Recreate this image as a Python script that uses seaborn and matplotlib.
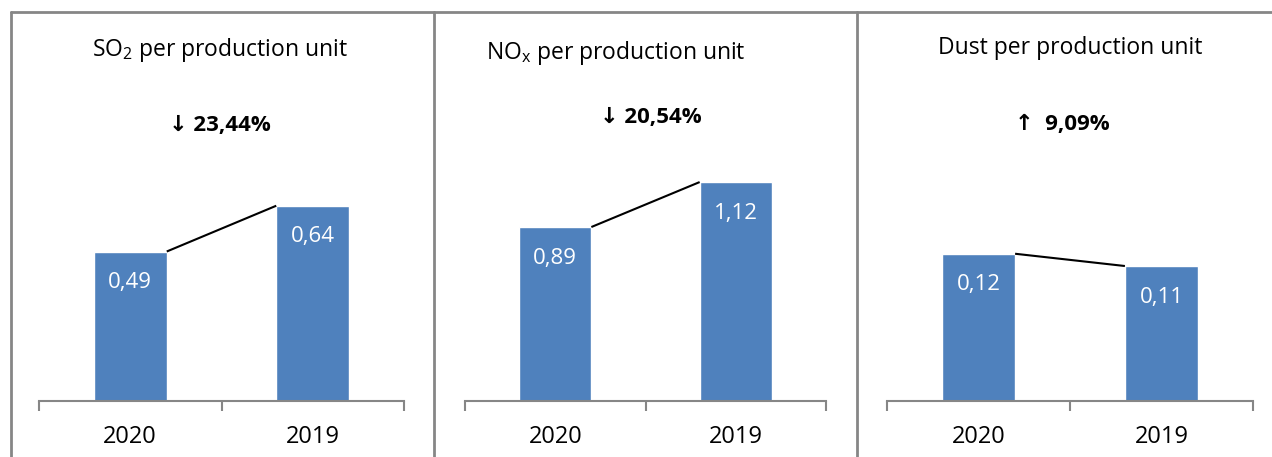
import matplotlib
matplotlib.use("Agg")
import matplotlib.pyplot as plt
from matplotlib.lines import Line2D
import seaborn as sns
import pandas as pd

# ---- data ----
years = ["2020", "2019"]
so2_values = [0.49, 0.64]
nox_values = [0.89, 1.12]
dust_values = [0.12, 0.11]
panel_titles = ["SO$_\\mathregular{2}$ per production unit",
                "NO$_\\mathregular{x}$ per production unit",
                "Dust per production unit"]
change_labels = ["\u2193 23,44%", "\u2193 20,54%", "\u2191  9,09%"]

sns.set_theme(style="white")
plt.rcParams['font.family'] = ['Open Sans', 'DejaVu Sans']
plt.rcParams['mathtext.fontset'] = 'custom'
plt.rcParams['mathtext.rm'] = 'Open Sans'
plt.rcParams['mathtext.it'] = 'Open Sans:italic'
plt.rcParams['mathtext.bf'] = 'Open Sans:bold'

W, H = 1272, 457
fig = plt.figure(figsize=(W / 100, H / 100), dpi=100)

bar_color = "#4F81BD"
gray = "#868686"

# axes placement in pixels: (left, right), baseline at y=401, top at y=12
axes_px = [(39, 404), (465, 826), (887, 1253)]
base_y, top_y = 401, 12
ylims = [1.275, 1.99, 0.317]
title_pos = [(0.496, 0.902), (0.418, 0.895), (0.50, 0.907)]
change_pos = [(0.496, 0.707), (0.515, 0.728), (0.478, 0.71)]

series = [so2_values, nox_values, dust_values]
bw = 0.4
for i, vals in enumerate(series):
    l, r = axes_px[i]
    ax = fig.add_axes([l / W, (H - base_y) / H, (r - l) / W, (base_y - top_y) / H])
    ax.patch.set_alpha(0)
    df = pd.DataFrame({"year": years, "value": vals})
    sns.barplot(data=df, x="year", y="value", color=bar_color, width=bw,
                saturation=1, ax=ax, errorbar=None)
    ax.set_xlim(-0.5, 1.5)
    ax.set_ylim(0, ylims[i])
    # connector line between the bar tops
    ax.plot([0 + bw / 2, 1 - bw / 2], [vals[0], vals[1]], color="black", lw=1.5,
            solid_capstyle="butt")
    # value labels
    for c in ax.containers:
        ax.bar_label(c, labels=[f"{v:.2f}".replace(".", ",") for v in vals],
                     padding=-30, color="white", fontsize=16)
    # axes styling
    for s in ["top", "left", "right"]:
        ax.spines[s].set_visible(False)
    ax.spines["bottom"].set_color(gray)
    ax.spines["bottom"].set_linewidth(1.5)
    ax.set_yticks([])
    ax.set_xlabel("")
    ax.set_ylabel("")
    ax.set_xticks([0, 1])
    ax.set_xticklabels(years, fontsize=17, color="black")
    ax.tick_params(axis="x", which="major", length=0, pad=17)
    ax.set_xticks([-0.5, 0.5, 1.5], minor=True)
    ax.tick_params(axis="x", which="minor", bottom=True, length=7, width=1.5,
                   color=gray, direction="out")
    ax.text(*title_pos[i], panel_titles[i], transform=ax.transAxes,
            ha="center", va="center", fontsize=16.5, color="black")
    ax.text(*change_pos[i], change_labels[i], transform=ax.transAxes,
            ha="center", va="center", fontsize=16, fontweight="bold",
            color="black")

# panel frame lines
lw = 2
fig.add_artist(Line2D([11 / W, 1.0], [(H - 12) / H] * 2, color=gray, lw=lw,
                      transform=fig.transFigure))
for x in [11, 434, 857]:
    fig.add_artist(Line2D([x / W] * 2, [0, (H - 12) / H], color=gray, lw=lw,
                          transform=fig.transFigure))

fig.savefig("out.png", dpi=100)
